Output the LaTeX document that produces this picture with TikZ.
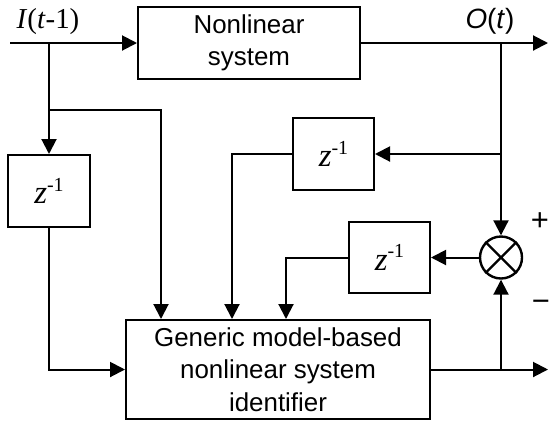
\documentclass[tikz,border=0pt]{standalone}
\usepackage{fontspec}
\setmainfont{Liberation Sans}
\newfontfamily\tmsfont{Liberation Serif}
\usetikzlibrary{arrows.meta,calc}

% z^{-1} delay element label
\newcommand{\zinv}{{\tmsfont\fontsize{33}{33}\selectfont\textit{z}\raisebox{0.38em}{\fontsize{20}{20}\selectfont -1}}}

\tikzset{
  wire/.style={line width=2bp, -{Triangle[length=15bp,width=15bp]}},
  blk/.style={draw, line width=2bp, rectangle, inner sep=0pt, align=center,
              font=\fontsize{26}{32.5}\selectfont},
  delay/.style={blk, minimum width=81bp, minimum height=72bp},
  lbl/.style={inner sep=0pt},
}

\begin{document}
\begin{tikzpicture}[x=1bp, y=-1bp]
  \useasboundingbox (0,0) rectangle (549,425);

  % blocks
  \node[blk, minimum width=222bp, minimum height=72bp] (ns) at (249,43) {Nonlinear\\system};
  \node[delay] (zl) at (49,191) {\zinv};
  \node[delay] (z2) at (333.5,154) {\zinv};
  \node[delay, minimum height=71bp] (z3) at (389.5,257.5) {\zinv};
  \node[blk, minimum width=304bp, minimum height=99bp] (id) at (278,369.5)
       {Generic model-based\\nonlinear system\\identifier};
  \node[draw, circle, line width=2.4bp, minimum size=42bp, inner sep=0pt] (sum) at (501,257.5) {};
  \draw[line width=2.4bp] (sum.north west) -- (sum.south east)
                          (sum.north east) -- (sum.south west);

  % labels
  \node[lbl] (lin) at (48,22) {\tmsfont\fontsize{29}{29}\selectfont\textit{I}(\textit{t}-1)};
  \node[lbl] (lout) at (490,21) {\fontsize{28}{28}\selectfont\textit{O}(\textit{t})};
  \node[lbl] (lplus) at (540,222) {\fontsize{31}{31}\selectfont +};
  \node[lbl] (lminus) at (541,306) {\fontsize{31}{31}\selectfont \textminus};

  % junction points
  \coordinate (in) at (10,43);
  \coordinate (tapI) at (49,43);
  \coordinate (out) at (548,43);
  \coordinate (tapO) at (501,43);
  \coordinate (b1) at (49,110);
  \coordinate (c1) at (161,110);
  \coordinate (tapZ) at (501,154);
  \coordinate (c2) at (232,154);
  \coordinate (c3) at (286,257.5);
  \coordinate (tapB) at (501,369.5);
  \coordinate (outB) at (548,369.5);

  % signal paths
  \draw[wire] (in) -- (ns.west);
  \draw[wire] (ns.east) -- (out);
  \draw[wire] (tapI) -- (zl.north);
  \draw[wire] (b1) -- (c1) -- (c1 |- id.north);
  \draw[wire] (zl.south) |- (id.west);
  \draw[wire] (tapO) -- (sum.north);
  \draw[wire] (tapZ) -- (z2.east);
  \draw[wire] (z2.west) -- (c2) -- (c2 |- id.north);
  \draw[wire] (sum.west) -- (z3.east);
  \draw[wire] (z3.west) -- (c3) -- (c3 |- id.north);
  \draw[wire] (id.east) -- (outB);
  \draw[wire] (tapB) -- (sum.south);
\end{tikzpicture}
\end{document}
